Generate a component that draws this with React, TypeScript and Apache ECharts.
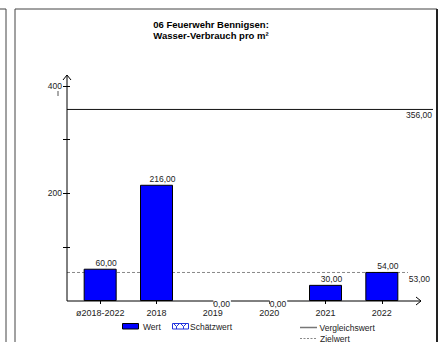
import React, { useEffect, useRef } from "react";
import * as echarts from "echarts";

const categories = ["ø2018-2022", "2018", "2019", "2020", "2021", "2022"];
const values = [60, 216, 0, 0, 30, 54];
const vergleichswert = 356;
const zielwert = 53;
const yTicks = [100, 200, 300, 400];
const yLabels = [200, 400];
const yMin = 0;
const yMax = 420;
const titleLines = ["06 Feuerwehr Bennigsen:", "Wasser-Verbrauch pro m²"];
const legendBars = ["Wert", "Schätzwert"];
const legendLines = ["Vergleichswert", "Zielwert"];

const FONT = "'Liberation Sans', Arial, sans-serif";
const fmt = (v: number) => v.toFixed(2).replace(".", ",");

export default function App() {
  const ref = useRef<HTMLDivElement>(null);
  useEffect(() => {
    document.body.style.margin = "0";
    const chart = echarts.init(ref.current!, null, { renderer: "svg" });
    const yAxisBase = {
      type: "value",
      min: yMin,
      max: yMax,
      offset: 5,
      position: "left",
      axisLine: { show: false },
      splitLine: { show: false },
    };
    chart.setOption({
      animation: false,
      grid: { left: 72, right: 31, top: 75, bottom: 41, containLabel: false, outerBoundsMode: "none" },
      xAxis: {
        type: "category",
        data: categories,
        axisLine: { show: false },
        axisTick: { show: true, alignWithLabel: true, interval: 0, length: 3, lineStyle: { color: "#000" } },
        axisLabel: { interval: 0, fontSize: 9, color: "#222", fontFamily: FONT, margin: 7 },
      },
      yAxis: [
        {
          ...yAxisBase,
          axisTick: { show: true, length: 4, customValues: yTicks, lineStyle: { color: "#000" } },
          axisLabel: { show: true, customValues: yLabels, fontSize: 8.5, color: "#222", fontFamily: FONT, margin: 5 },
        },
        {
          ...yAxisBase,
          axisTick: { show: true, inside: true, length: 3, customValues: yTicks, lineStyle: { color: "#000" } },
          axisLabel: { show: false },
        },
      ],
      series: [
        {
          type: "bar",
          yAxisIndex: 0,
          barWidth: 33,
          z: 2,
          itemStyle: { color: "#0000ff", borderColor: "#000", borderWidth: 1 },
          label: {
            show: true,
            position: "top",
            distance: 1,
            offset: [6, 0],
            fontSize: 8.5,
            color: "#222",
            fontFamily: FONT,
            formatter: (p: any) => fmt(p.value),
          },
          data: values.map((v) =>
            v === 0
              ? {
                  value: v,
                  itemStyle: { borderWidth: 0 },
                  label: {
                    position: [17, -1.5],
                    offset: [0, 0],
                    align: "left",
                    verticalAlign: "top",
                    backgroundColor: "#fff",
                    padding: [0, 1, 0, 0],
                    lineHeight: 8,
                  },
                }
              : v
          ),
        },
      ],
    });

    const yp = (v: number) => chart.convertToPixel({ yAxisIndex: 0 }, v) as number;
    const y0 = yp(yMin);
    const yTop = yp(yMax);
    const yV = yp(vergleichswert);
    const yZ = yp(zielwert);
    const ax = 67;
    const xEnd = 421;
    const txt = (text: string, x: number, y: number, extra: any = {}) => ({
      type: "text",
      silent: true,
      z: 5,
      style: {
        text,
        x,
        y,
        fill: "#222",
        fontSize: 8.5,
        fontFamily: FONT,
        align: "left",
        verticalAlign: "middle",
        ...extra,
      },
    });
    const ln = (x1: number, y1: number, x2: number, y2: number, style: any, z = 1) => ({
      type: "line",
      silent: true,
      z,
      shape: { x1, y1, x2, y2 },
      style: { stroke: "#000", lineWidth: 1, ...style },
    });

    chart.setOption({
      graphic: [
        // frame
        { type: "rect", silent: true, z: 0, shape: { x: 15, y: 9, width: 422, height: 345 }, style: { fill: "none", stroke: "#444", lineWidth: 1 } },
        ln(437, 9, 437, 342, { stroke: "#222", lineWidth: 2 }, 0),
        { type: "polyline", silent: true, z: 0, shape: { points: [[0, 9], [6, 9], [6, 342]] }, style: { fill: "none", stroke: "#444", lineWidth: 1 } },
        // title
        txt(titleLines[0], 211, 24.5, { align: "center", fontSize: 9.5, fontWeight: "bold", fill: "#000" }),
        txt(titleLines[1], 211, 35, { align: "center", fontSize: 9.5, fontWeight: "bold", fill: "#000" }),
        // axes
        ln(ax, y0, ax, yTop, {}, 3),
        { type: "polyline", silent: true, z: 3, shape: { points: [[ax - 4, yTop + 5], [ax, yTop], [ax + 4, yTop + 5]] }, style: { fill: "none", stroke: "#000", lineWidth: 1 } },
        ln(ax, y0, xEnd, y0, {}, 1),
        { type: "polyline", silent: true, z: 1, shape: { points: [[xEnd - 5, y0 - 4], [xEnd, y0], [xEnd - 5, y0 + 4]] }, style: { fill: "none", stroke: "#000", lineWidth: 1 } },
        ln(58, 91, 58, 96, { stroke: "#555" }, 1),
        // reference lines
        ln(ax, yV, 433, yV, { stroke: "#111" }, 1),
        txt(fmt(vergleichswert), 432, yV + 6, { align: "right" }),
        ln(ax, yZ, 408, yZ, { stroke: "#888", lineDash: [3, 2] }, 1),
        txt(fmt(zielwert), 430, yZ + 7, { align: "right" }),
        // legend
        { type: "rect", silent: true, z: 5, shape: { x: 122.5, y: 323.5, width: 16, height: 5.5 }, style: { fill: "#0000ff", stroke: "#000", lineWidth: 1 } },
        txt(legendBars[0], 143, 326.5),
        { type: "rect", silent: true, z: 5, shape: { x: 172.5, y: 323.5, width: 16, height: 5.5 }, style: { fill: "#fff", stroke: "#2233dd", lineWidth: 1 } },
        { type: "polyline", silent: true, z: 6, shape: { points: [[174, 324], [176.5, 326.5], [179, 324]] }, style: { fill: "none", stroke: "#2233dd", lineWidth: 1 } },
        ln(176.5, 326.5, 176.5, 329, { stroke: "#2233dd" }, 6),
        { type: "polyline", silent: true, z: 6, shape: { points: [[181, 324], [183.5, 326.5], [186, 324]] }, style: { fill: "none", stroke: "#2233dd", lineWidth: 1 } },
        ln(183.5, 326.5, 183.5, 329, { stroke: "#2233dd" }, 6),
        txt(legendBars[1], 190, 326.5),
        ln(300, 327.5, 317, 327.5, { stroke: "#777", lineWidth: 1.5 }, 5),
        txt(legendLines[0], 319.5, 327.5),
        ln(300, 338.5, 317, 338.5, { stroke: "#888", lineDash: [2, 1.5] }, 5),
        txt(legendLines[1], 320, 338.5),
      ],
    });
    return () => chart.dispose();
  }, []);
  return <div ref={ref} style={{ width: 441, height: 342 }} />;
}
